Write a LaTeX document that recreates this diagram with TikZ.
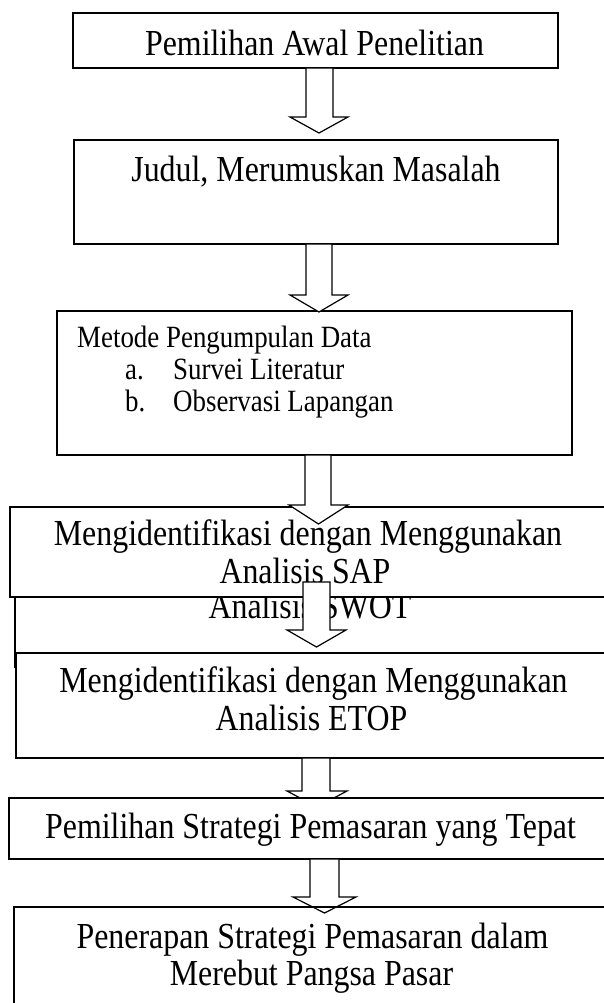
\documentclass[tikz,border=0pt]{standalone}
\usepackage{fontspec}
\usepackage{graphicx}
\setmainfont{Liberation Serif}
\newcommand{\blockarr}[7]{%
  \draw[arr] (#1,#3) -- (#1,#4) -- (#5,#4) -- ({(#5+#6)/2},#7) -- (#6,#4) -- (#2,#4) -- (#2,#3) -- cycle;}
\newcommand{\tall}[1]{\scalebox{1}[1.15]{#1}}
\begin{document}
\begin{tikzpicture}[x=1bp,y=-1bp,
  box/.style={draw=black, line width=1.3bp, fill=white, inner sep=0pt, outer sep=0pt},
  openbox/.style={draw=black, line width=1.3bp, inner sep=0pt, outer sep=0pt},
  arr/.style={draw=black, line width=1.2bp, fill=white, line join=miter},
  lbl/.style={anchor=base, inner sep=0pt, font=\fontsize{32}{38}\selectfont},
  sml/.style={anchor=base west, inner sep=0pt, font=\fontsize{27}{32}\selectfont}]
\useasboundingbox[fill=white] (0,0) rectangle (604,1003);

% Box 1
\node[box, minimum width=485bp, minimum height=55bp] (b1) at (315.5,40.5) {};
\node[lbl] (t1) at (314.5,55) {\tall{Pemilihan Awal Penelitian}};
\blockarr{306}{333}{68}{117}{290}{348}{133}

% Box 2
\node[box, minimum width=484bp, minimum height=104bp] (b2) at (316,192) {};
\node[lbl] (t2) at (316,181) {\tall{Judul, Merumuskan Masalah}};

% Box 3
\node[box, minimum width=515bp, minimum height=144bp] (b3) at (314.5,383) {};
\blockarr{306}{332}{244}{295}{290}{348}{312}
\node[sml] (t3) at (77,347) {\tall{Metode Pengumpulan Data}};
\node[sml] (t3a) at (125,379) {\tall{a.}};
\node[sml] (t3b) at (173,379) {\tall{Survei Literatur}};
\node[sml] (t3c) at (125,411) {\tall{b.}};
\node[sml] (t3d) at (173,411) {\tall{Observasi Lapangan}};

% SWOT box (behind)
\node[box, minimum width=605bp, minimum height=107bp] (bswot) at (317.5,613.5) {};
\node[lbl] (tswot) at (310,618) {\tall{Analisis SWOT}};

% SAP box
\node[box, minimum width=610bp, minimum height=90bp] (bsap) at (315,552) {};
\node[lbl] (tsap1) at (308,545) {\tall{Mengidentifikasi dengan Menggunakan}};
\node[lbl] (tsap2) at (305,583) {\tall{Analisis SAP}};

% ETOP box
\node[box, minimum width=604bp, minimum height=105bp] (betop) at (318,705.5) {};
\node[lbl] (tetop1) at (313.5,692) {\tall{Mengidentifikasi dengan Menggunakan}};
\node[lbl] (tetop2) at (311.5,730) {\tall{Analisis ETOP}};

\blockarr{305}{331}{455}{505}{289}{348}{524}
\blockarr{303}{330}{582}{630}{287}{346}{647}

% Box 6
\blockarr{302}{330}{758}{791}{287}{347}{807}
\node[box, minimum width=611bp, minimum height=61bp] (b6) at (314.5,828.5) {};
\node[lbl] (t6) at (310.5,838) {\tall{Pemilihan Strategi Pemasaran yang Tepat}};

% Box 7
\blockarr{310}{339}{859}{897}{293}{356}{913}
\node[openbox, minimum width=606bp, minimum height=113bp] (b7) at (317,963.5) {};
\node[lbl] (t7a) at (312.5,948) {\tall{Penerapan Strategi Pemasaran dalam}};
\node[lbl] (t7b) at (311.5,985) {\tall{Merebut Pangsa Pasar}};
\end{tikzpicture}
\end{document}
